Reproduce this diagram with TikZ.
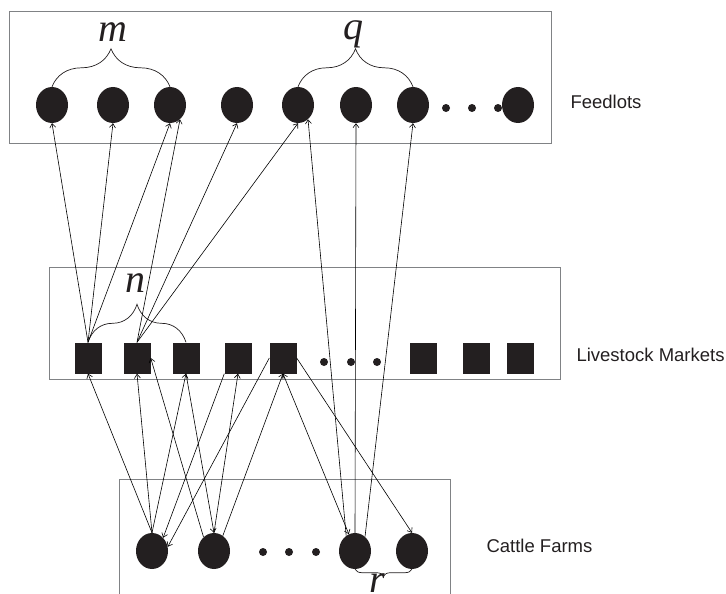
\documentclass[tikz,border=0pt]{standalone}
\usepackage{fontspec}
\setmainfont{Liberation Sans}
\newfontfamily\letterfont{Liberation Serif}
\usepackage{tikz}
\usetikzlibrary{positioning,shapes.geometric,arrows.meta,decorations.pathreplacing}
\definecolor{inkblack}{HTML}{231F20}
\definecolor{boxgray}{HTML}{808285}

\begin{document}
\begin{tikzpicture}[x=1pt,y=-1pt]
                \tikzstyle{site} = [ellipse, minimum width=32pt, minimum height=36pt, inner sep=0pt, fill=inkblack]
                \tikzstyle{market} = [rectangle, minimum width=27pt, minimum height=31pt, inner sep=0pt, fill=inkblack]
                \tikzstyle{gap} = [circle, minimum size=8pt, inner sep=0pt, fill=inkblack]
                \tikzstyle{frame} = [draw=boxgray, line width=0.9pt]
                \tikzstyle{arrow} = [line width=0.6pt, ->, >={Straight Barb[length=4pt,width=6pt]}]
                \tikzstyle{brace} = [decorate, decoration={brace, amplitude=38pt}, line width=0.7pt, draw=inkblack]
                \tikzstyle{tier} = [anchor=west, text=inkblack, font=\fontsize{18.5}{22}\selectfont]
                \tikzstyle{count} = [anchor=base, inner sep=0pt, text=inkblack, font=\letterfont\itshape\fontsize{40}{44}\selectfont]

                \useasboundingbox (0,0) rectangle (726,594);

                % tiers
                \draw [frame] (9,11) rectangle (551,143);
                \draw [frame] (49,267) rectangle (560,379);
                \draw [frame] (119,479) -- (119,594) (119,479) -- (450,479) -- (450,594);
                \node (feedlbl) [tier] at (567,102) {Feedlots};
                \node (mktlbl) [tier] at (573,355) {Livestock Markets};
                \node (farmlbl) [tier] at (483,546) {Cattle Farms};

                % feedlots
                \node (feed1) [site] at (52,105) {};
                \node (feed2) [site] at (113,105) {};
                \node (feed3) [site] at (170,105) {};
                \node (feed4) [site] at (237,105) {};
                \node (feed5) [site] at (298,105) {};
                \node (feed6) [site] at (356,105) {};
                \node (feed7) [site] at (413,105) {};
                \node (fdot1) [gap] at (446,108) {};
                \node (fdot2) [gap] at (472,108) {};
                \node (fdot3) [gap] at (498,108) {};
                \node (feed8) [site] at (518,105) {};

                % markets
                \node (mkt1) [market] at (88,358) {};
                \node (mkt2) [market] at (137,358) {};
                \node (mkt3) [market] at (186,358) {};
                \node (mkt4) [market] at (238,358) {};
                \node (mkt5) [market] at (283,358) {};
                \node (mdot1) [gap] at (324,362) {};
                \node (mdot2) [gap] at (351,362) {};
                \node (mdot3) [gap] at (377,362) {};
                \node (mkt6) [market] at (423,358) {};
                \node (mkt7) [market] at (476,358) {};
                \node (mkt8) [market] at (520,358) {};

                % farms
                \node (farm1) [site] at (152,551) {};
                \node (farm2) [site] at (214,551) {};
                \node (cdot1) [gap] at (263,552) {};
                \node (cdot2) [gap] at (289,552) {};
                \node (cdot3) [gap] at (316,552) {};
                \node (farm3) [site] at (355,551) {};
                \node (farm4) [site] at (412,551) {};

                % braces
                \draw [brace] (feed1.north) -- (feed3.north);
                \draw [brace] (feed5.north) -- (feed7.north);
                \draw [brace] (mkt1.north) -- (mkt3.north);
                \draw [brace, decoration={amplitude=7pt}] (farm4.south) -- (farm3.south);
                \node (mlbl) [count] at (113,42) {m};
                \node (qlbl) [count] at (353,40) {q};
                \node (nlbl) [count] at (135,292) {n};
                \node (rlbl) [count] at (377,592) {r};

                % markets to feedlots
                \draw [arrow] (mkt1.north) -- (feed1.south);
                \draw [arrow] (mkt1.north) -- (feed2.south);
                \draw [arrow] (mkt1.north) -- (feed3.south);
                \draw [arrow] (mkt2.north) -- (feed3.-55);
                \draw [arrow] (mkt2.north) -- (feed4.south);
                \draw [arrow] (mkt2.north) -- (feed5.south);

                % farms to feedlots
                \draw [arrow] (farm3.120) -- (feed5.-55);
                \draw [arrow] (farm3.north) -- (feed6.south);
                \draw [arrow] (farm3.55) -- (feed7.south);

                % farms and markets
                \draw [arrow] (farm1.north) -- (mkt1.south);
                \draw [arrow] (farm1.north) -- (mkt2.south);
                \draw [arrow] (farm1.north) -- (mkt3.south);
                \draw [arrow] (mkt4.south west) -- (farm1.50);
                \draw [arrow] (mkt5.west) -- (farm1.15);
                \draw [arrow] (farm2.127) -- (mkt2.east);
                \draw [arrow] (mkt3.south) -- (farm2.north);
                \draw [arrow] (farm2.north) -- (mkt4.south);
                \draw [arrow] (farm2.60) -- (mkt5.south);
                \draw [arrow, <->] (mkt5.south) -- (farm3.110);
                \draw [arrow] (mkt5.east) -- (farm4.north);

            \end{tikzpicture}
\end{document}
